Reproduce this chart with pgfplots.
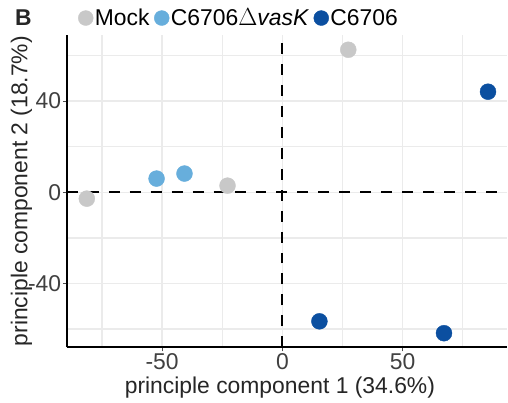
\documentclass[border=0pt]{standalone}
\usepackage{pgfplots}
\pgfplotsset{compat=1.18}
\usepackage{fontspec}
\setmainfont{Liberation Sans}

\definecolor{mockgrey}{HTML}{C8C8C8}
\definecolor{vasblue}{HTML}{67AEDC}
\definecolor{wtblue}{HTML}{0B4FA0}
\definecolor{gridgrey}{HTML}{EBEBEB}

\newcommand{\bigfont}{\fontsize{23}{26}\selectfont}

\begin{document}
\begin{tikzpicture}
\begin{axis}[
    scale only axis,
    width=441bp, height=313bp,
    xmin=-89.6, xmax=93.4,
    ymin=-68, ymax=69,
    axis x line*=bottom, axis y line*=left,
    axis line style={black, line width=2bp},
    xtick={-50,0,50}, ytick={-40,0,40},
    minor xtick={-75,-25,25,75}, minor ytick={-60,-20,20,60},
    grid=both,
    major grid style={gridgrey, line width=1.3bp},
    minor grid style={gridgrey, line width=1.3bp},
    tick align=outside,
    major tick length=4bp, minor tick length=0bp,
    tick style={black!70, line width=1bp},
    /pgf/number format/assume math mode=true,
    tick label style={font=\bigfont, text=black!75},
    xticklabel style={inner sep=0pt, yshift=-2bp},
    yticklabel style={inner sep=0pt, xshift=-1.5bp},
    label style={font=\bigfont, text=black!85, inner sep=0pt},
    xlabel={principle component 1 (34.6\%)},
    ylabel={principle component 2 (18.7\%)},
    xlabel style={at={(axis description cs:0.484,-0.13)}, anchor=center},
    ylabel style={at={(axis description cs:-0.103,0.5)}, anchor=center},
    legend columns=-1,
    legend style={at={(axis description cs:0.025,1.054)}, anchor=west,
        draw=none, fill=none, inner sep=0pt, font=\bigfont,
        nodes={inner sep=1.5bp},
        /tikz/every even column/.append style={column sep=3bp}},
    legend image code/.code={\fill[#1] (7.5bp,0bp) circle (7.5bp);},
    clip=false,
]
\addplot[forget plot, black, line width=2bp, dash pattern=on 11bp off 10bp]
    coordinates {(0,-68) (0,69)};
\addplot[forget plot, black, line width=2bp, dash pattern=on 11bp off 10bp]
    coordinates {(-89.6,0) (93.4,0)};

\addplot[only marks, mark=*, mark size=8bp, color=mockgrey, mark options={draw=none, fill=mockgrey}]
    coordinates {(-81.3,-2.8) (-22.8,2.9) (27.4,62.5)};
\addlegendentry{Mock}
\addplot[only marks, mark=*, mark size=8bp, color=vasblue, mark options={draw=none, fill=vasblue}]
    coordinates {(-52.3,6.0) (-40.7,8.2)};
\addlegendentry{C6706$\Delta$\textit{vasK}}
\addplot[only marks, mark=*, mark size=8bp, color=wtblue, mark options={draw=none, fill=wtblue}]
    coordinates {(85.5,44.1) (15.4,-56.6) (67.2,-61.8)};
\addlegendentry{C6706}

\node[font=\bfseries\bigfont, text=black!85] at (axis description cs:-0.099,1.054) {B};
\end{axis}
\useasboundingbox (-67bp,-55bp) rectangle (441bp,348bp);
\end{tikzpicture}
\end{document}
